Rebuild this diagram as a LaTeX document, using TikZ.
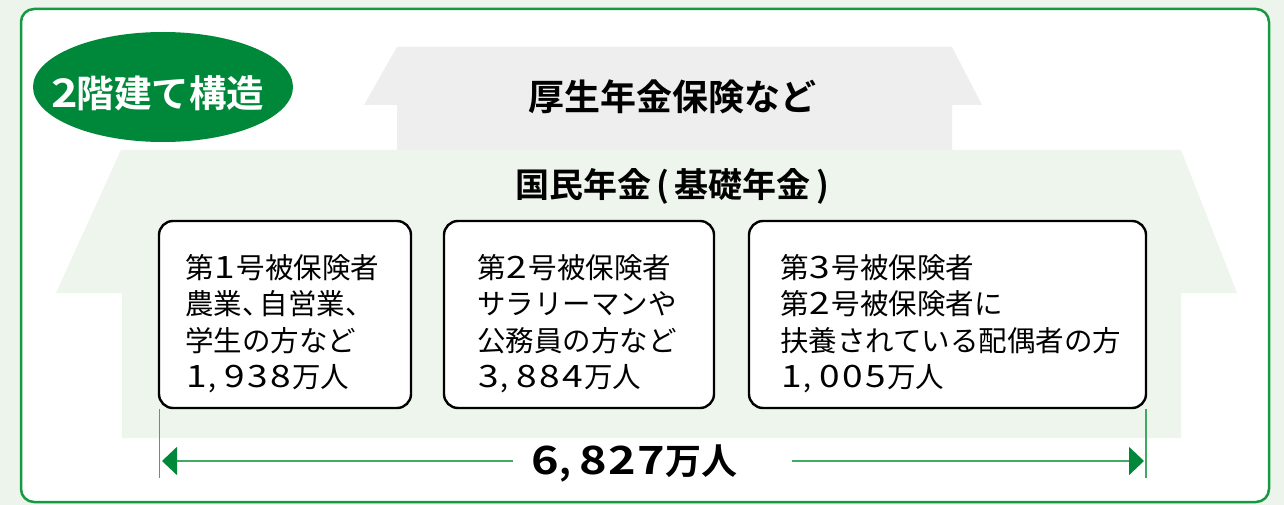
\documentclass[tikz,border=0pt]{standalone}
\usepackage{fontspec}
\usepackage{graphicx}
\newfontfamily\jp{Noto Sans CJK JP}[BoldFont={Noto Sans CJK JP Bold}]
\usetikzlibrary{arrows.meta,shapes.geometric}
\definecolor{bgc}{HTML}{EDF4EC}
\definecolor{housegreen}{HTML}{EDF5EC}
\definecolor{housegray}{HTML}{EEEEEE}
\definecolor{dkgreen}{HTML}{00883A}
\definecolor{framegreen}{HTML}{159A42}
\definecolor{lngreen}{HTML}{40AA62}
\newcommand\Dg[1]{\makebox[0.8em][c]{\scalebox{1.3}[1.08]{#1}}}
\newcommand\Cm{\makebox[0.55em][l]{,}}
\newcommand\Tn{\makebox[0.62em][l]{、}}
\begin{document}
\begin{tikzpicture}[x=1pt,y=-1pt,
  every node/.style={inner sep=0pt, font=\jp},
  boxstyle/.style={draw=black, line width=2.4pt, rounded corners=14pt, fill=white, minimum height=187pt},
  boxtext/.style={anchor=north west, align=left, font=\jp\fontsize{28.5}{36.5}\selectfont},
  titlestyle/.style={font=\jp\bfseries\fontsize{#1}{#1}\selectfont},
  guide/.style={lngreen, line width=1.5pt},
  dimline/.style={lngreen, line width=1.8pt, -{Triangle[length=15pt,width=28pt,color=dkgreen]}}]
\useasboundingbox (0,0) rectangle (1284,505);
\fill[bgc] (0,0) rectangle (1284,505);
\draw[framegreen, line width=2.5pt, fill=white, rounded corners=13pt] (21,9) rectangle (1269,502);
% lower house (green)
\fill[housegreen] (121,150) -- (1181,150) -- (1237,293) -- (1181,293) -- (1181,438) -- (122,438) -- (122,293) -- (56,293) -- cycle;
% upper house (gray)
\fill[housegray] (397,47) -- (952,47) -- (982,105) -- (952,105) -- (952,150) -- (397,150) -- (397,105) -- (364,105) -- cycle;
% badge
\node[ellipse, fill=dkgreen, minimum width=260pt, minimum height=110pt] (badge) at (163,87) {};
\node[titlestyle=37.5, text=white] (badgetext) at (159,93) {\makebox[0.62em][c]{\scalebox{1.2}[1.05]{2}}階建て構造};
% titles
\node[titlestyle=36] (upper) at (672,97) {厚生年金保険など};
\node[titlestyle=34] (lower) at (675,186) {国民年金\makebox[0.68em][c]{(}基礎年金\makebox[0.68em][c]{)}};
% boxes
\node[boxstyle, minimum width=252pt] (b1) at (285,314.5) {};
\node[boxstyle, minimum width=270pt] (b2) at (579,314.5) {};
\node[boxstyle, minimum width=397pt] (b3) at (947.5,314.5) {};
\node[boxtext] (t1) at (185,254) {第\Dg{1}号被保険者\\農業\Tn 自営業\Tn\\学生の方など\\\Dg{1}\Cm\Dg{9}\Dg{3}\Dg{8}万人};
\node[boxtext] (t2) at (477,254) {第\Dg{2}号被保険者\\サラリーマンや\\公務員の方など\\\Dg{3}\Cm\Dg{8}\Dg{8}\Dg{4}万人};
\node[boxtext] (t3) at (780,254) {第\Dg{3}号被保険者\\第\Dg{2}号被保険者に\\扶養されている配偶者の方\\\Dg{1}\Cm\Dg{0}\Dg{0}\Dg{5}万人};
% dimension
\coordinate (l1) at (159.5,409);
\coordinate (l2) at (159.5,478);
\coordinate (r1) at (1146,409);
\coordinate (r2) at (1146,478);
\draw[guide] (l1) -- (l2);
\draw[guide] (r1) -- (r2);
\node[titlestyle=36] (total) at (634,463) {\Dg{6}\Cm\Dg{8}\Dg{2}\Dg{7}万人};
\coordinate (la) at (513,461);
\coordinate (lt) at (162,461);
\coordinate (ra) at (792,461);
\coordinate (rt) at (1144,461);
\draw[dimline] (la) -- (lt);
\draw[dimline] (ra) -- (rt);
\end{tikzpicture}
\end{document}
